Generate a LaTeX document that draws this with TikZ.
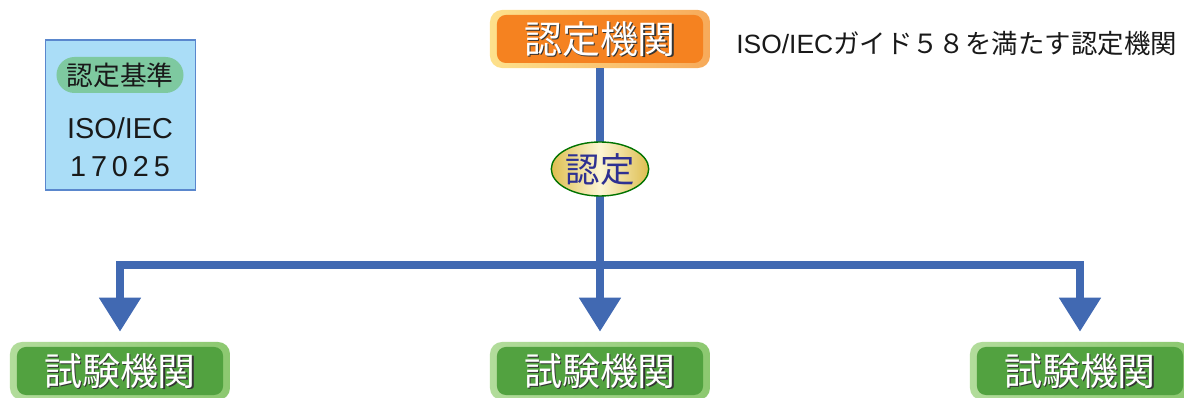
\documentclass[tikz,border=0pt]{standalone}
\usepackage{fontspec}
\setmainfont{Liberation Sans}
\newfontfamily\jp{Noto Sans CJK JP}
\usetikzlibrary{shapes.geometric,arrows.meta}
\definecolor{flow}{RGB}{65,105,178}
\definecolor{hqorange}{RGB}{245,130,32}
\definecolor{hqlight}{RGB}{253,225,140}
\definecolor{hqdark}{RGB}{247,170,90}
\definecolor{labgreen}{RGB}{82,162,64}
\definecolor{lablight}{RGB}{178,220,155}
\definecolor{labdark}{RGB}{140,200,112}
\definecolor{stdblue}{RGB}{170,221,247}
\definecolor{stdedge}{RGB}{90,135,205}
\definecolor{pillgreen}{RGB}{126,201,160}
\definecolor{certblue}{RGB}{46,49,146}
\definecolor{certgold}{RGB}{222,190,80}
\definecolor{certpale}{RGB}{252,246,212}
\tikzset{
  boxframe/.style 2 args = {rounded corners=0.3cm, minimum width=5.5cm,
                minimum height=1.45cm, inner sep=0pt, left color=#1, right color=#2},
  boxfill/.style = {fill=#1, rounded corners=0.22cm, minimum width=5.15cm,
                minimum height=1.2cm, inner sep=0pt},
  boxtext/.style = {text=white, inner sep=0pt,
                font=\jp\fontsize{27pt}{27pt}\selectfont},
  boxshadow/.style = {boxtext, text=black!80},
  flowline/.style = {draw=flow, line width=0.2cm, line join=miter},
  stdtext/.style = {inner sep=0pt, text=black!90,
                font=\fontsize{20.5pt}{20.5pt}\selectfont}
}

\begin{document}
\begin{tikzpicture}[x=0.025cm, y=-0.025cm]
	\def \tip{Triangle[width=1cm, length=0.85cm]}
	\useasboundingbox (0,0) rectangle (1184,398);

	% Accreditation body
	\node[boxframe={hqlight}{hqdark}] (hqframe) at (600,39) {};
	\node[boxfill=hqorange] (hq) at (hqframe) {};
	\node[boxshadow] (hqshadow) at ([shift={(1.4,1.4)}]hq) {認定機関};
	\node[boxtext] (hqtext) at (hq) {認定機関};
	\node[anchor=west, inner sep=0pt, text=black!90,
	      font=\fontsize{18.8pt}{18.8pt}\selectfont] (hqnote) at (736,44)
	      {ISO/IEC{\jp ガイド５８を満たす認定機関}};

	% Testing bodies
	\node[boxframe={lablight}{labdark}] (lab1) at (120,371) {};
	\node[boxframe={lablight}{labdark}] (lab2) at (600,371) {};
	\node[boxframe={lablight}{labdark}] (lab3) at (1080,371) {};
	\foreach \n in {1,2,3} {
		\node[boxfill=labgreen] (lab\n in) at (lab\n) {};
		\node[boxshadow] (lab\n shadow) at ([shift={(1.4,1.4)}]lab\n) {試験機関};
		\node[boxtext] (lab\n text) at (lab\n) {試験機関};
	}

	% Standard
	\node[draw=stdedge, fill=stdblue, line width=1pt, minimum width=3.75cm,
	      minimum height=3.75cm, inner sep=0pt] (std) at (120.5,115) {};
	\node[fill=pillgreen, rounded corners=0.45cm, minimum width=3.175cm,
	      minimum height=0.9cm, inner sep=0pt, text=black!90,
	      font=\jp\fontsize{19pt}{19pt}\selectfont] (stdtitle) at (120,75) {認定基準};
	\node[stdtext] (stdname) at (120,128.5) {ISO/IEC};
	\node[stdtext] (stdnum) at (120,167) {1\kern3.5pt 7\kern3.5pt 0\kern3.5pt 2\kern3.5pt 5};

	% Arrows
	\coordinate (bus) at (600,265);
	\draw[flowline, -{\tip}, shorten >=0.25cm] (hqframe.south) -- (lab2.north);
	\draw[flowline, {\tip}-{\tip}, shorten <=0.25cm, shorten >=0.25cm]
		(lab1.north) -- (lab1.north |- bus) -- (lab3.north |- bus) -- (lab3.north);

	% Accreditation mark
	\node[ellipse, draw=green!45!black, line width=1pt, minimum width=2.375cm,
	      minimum height=1.35cm, inner sep=0pt,
	      left color=certgold, right color=certgold, middle color=certpale,
	      text=certblue,
	      font=\jp\fontsize{24.5pt}{24.5pt}\selectfont] (cert) at (600,169) {認定};
\end{tikzpicture}
\end{document}
